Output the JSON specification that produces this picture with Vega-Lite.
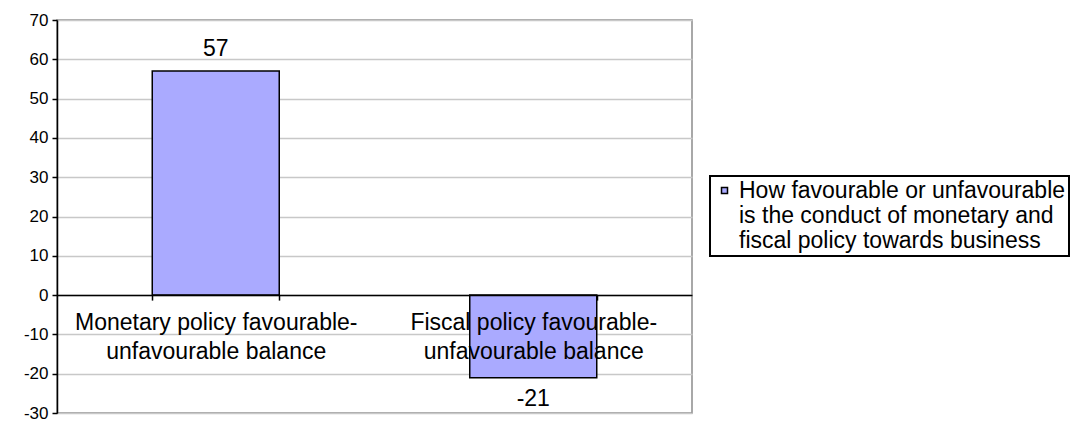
{
  "$schema": "https://vega.github.io/schema/vega-lite/v6.json",
  "width": 635,
  "height": 393,
  "autosize": {"type": "none"},
  "padding": {"left": 57, "top": 20, "right": 386, "bottom": 11},
  "config": {
    "font": "Liberation Sans",
    "view": {"stroke": "#8c8c8c", "strokeWidth": 1.5}
  },
  "data": {
    "values": [
      {"category": "Monetary policy favourable-|unfavourable balance", "value": 57, "series": "How favourable or unfavourable|is the conduct of monetary and|fiscal policy towards business"},
      {"category": "Fiscal policy favourable-|unfavourable balance", "value": -21, "series": "How favourable or unfavourable|is the conduct of monetary and|fiscal policy towards business"}
    ]
  },
  "encoding": {
    "x": {
      "field": "category",
      "type": "nominal",
      "sort": null,
      "scale": {"paddingInner": 0.6, "paddingOuter": 0.3},
      "axis": {
        "title": null,
        "orient": "bottom",
        "offset": -117.9,
        "zindex": 1,
        "labelAngle": 0,
        "labelExpr": "split(datum.label, '|')",
        "labelFontSize": 23,
        "labelColor": "black",
        "labelLineHeight": 29,
        "labelPadding": 11,
        "labelLimit": 0,
        "tickBand": "extent",
        "domainColor": "black",
        "domainWidth": 1.5,
        "tickColor": "black",
        "tickWidth": 1.5,
        "tickSize": 5,
        "grid": false
      }
    },
    "y": {
      "field": "value",
      "type": "quantitative",
      "scale": {"domain": [-30, 70], "nice": false, "zero": false},
      "axis": {
        "title": null,
        "values": [-30, -20, -10, 0, 10, 20, 30, 40, 50, 60, 70],
        "labelExpr": "datum.value + ''",
        "labelFontSize": 17,
        "labelColor": "black",
        "labelPadding": 4,
        "domainColor": "black",
        "domainWidth": 1.5,
        "tickColor": "black",
        "tickWidth": 1.5,
        "tickSize": 5,
        "grid": true,
        "gridColor": "#c8c8c8",
        "gridWidth": 1.5
      }
    }
  },
  "layer": [
    {
      "mark": {"type": "bar", "stroke": "black", "strokeWidth": 1.5},
      "encoding": {
        "color": {
          "field": "series",
          "type": "nominal",
          "scale": {"range": ["#aaaaff"]},
          "legend": {
            "title": null,
            "orient": "none",
            "legendX": 653,
            "legendY": 156,
            "labelExpr": "split(datum.label, '|')",
            "labelFontSize": 23,
            "labelColor": "black",
            "labelLineHeight": 23,
            "labelLimit": 0,
            "labelOffset": 3,
            "symbolType": "square",
            "symbolSize": 36,
            "symbolStrokeColor": "black",
            "symbolStrokeWidth": 1.5,
            "strokeColor": "black",
            "padding": 3,
            "encode": {"legend": {"update": {"strokeWidth": {"value": 2}}}}
          }
        }
      }
    },
    {
      "transform": [{"filter": "datum.value >= 0"}],
      "mark": {"type": "text", "baseline": "bottom", "dy": -10, "fontSize": 23, "color": "black"},
      "encoding": {"text": {"field": "value", "type": "nominal"}}
    },
    {
      "transform": [{"filter": "datum.value < 0"}],
      "mark": {"type": "text", "baseline": "top", "dy": 10, "fontSize": 23, "color": "black"},
      "encoding": {"text": {"field": "value", "type": "nominal"}}
    }
  ]
}
